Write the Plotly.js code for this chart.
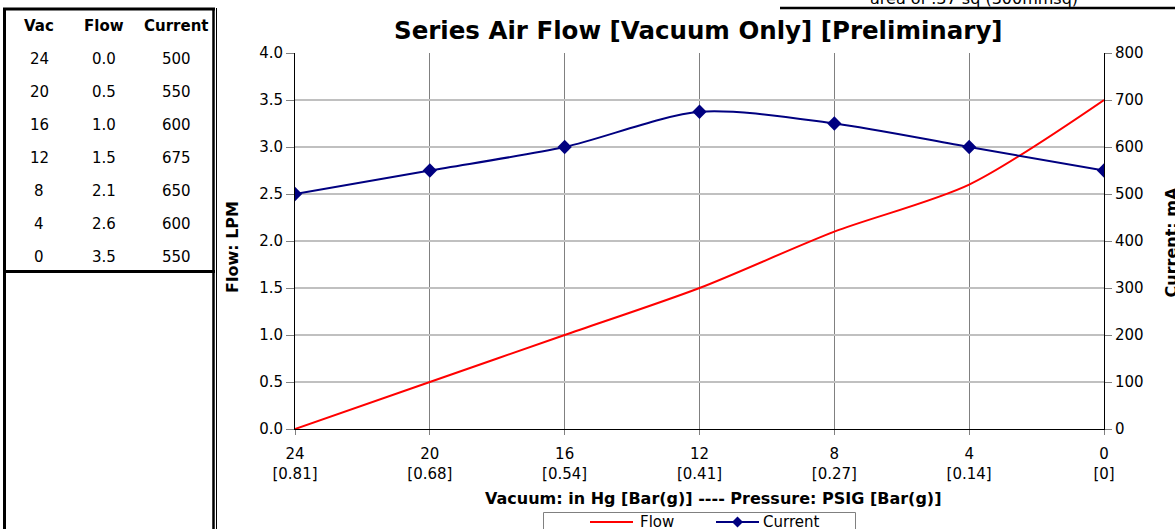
<!DOCTYPE html>
<html>
<head>
<meta charset="utf-8">
<script src="https://cdn.plot.ly/plotly-3.0.1.min.js"></script>
<style>
  html, body { margin: 0; padding: 0; background: #fff; }
  #chart { width: 1175px; height: 529px; }
</style>
</head>
<body>
<div id="chart"></div>
<script>
// ---- data ----
const vacuum = [24, 20, 16, 12, 8, 4, 0];
const barLabels = ['[0.81]', '[0.68]', '[0.54]', '[0.41]', '[0.27]', '[0.14]', '[0]'];
const flow = [0.0, 0.5, 1.0, 1.5, 2.1, 2.6, 3.5];
const current = [500, 550, 600, 675, 650, 600, 550];
const tableHeaders = ['Vac', 'Flow', 'Current'];
const seriesNames = ['Flow', 'Current'];
const seriesColors = ['#ff0000', '#000080'];
const titleText = 'Series Air Flow [Vacuum Only] [Preliminary]';
const noteText = 'area of .37 sq (300mmsq)';

// ---- geometry helpers (pixel -> paper) ----
const W = 1175, H = 529;
const L = 295, R = 1104, T = 53, B = 429;
const px = x => (x - L) / (R - L);
const py = y => (B - y) / (B - T);

const FONT = 'DejaVu Sans';
const tickFont = { family: FONT, size: 15, color: '#000' };

const traces = [
  {
    x: vacuum, y: flow, name: seriesNames[0], type: 'scatter', mode: 'lines',
    line: { color: seriesColors[0], width: 2, shape: 'spline', smoothing: 0.8 },
    yaxis: 'y', showlegend: false
  },
  {
    x: vacuum, y: current, name: seriesNames[1], type: 'scatter', mode: 'lines+markers',
    line: { color: seriesColors[1], width: 2, shape: 'spline', smoothing: 0.8 },
    marker: { symbol: 'diamond', size: 11, color: seriesColors[1] },
    yaxis: 'y2', showlegend: false
  }
];

const ann = (x, y, text, opts) => Object.assign({ xref: 'paper', yref: 'paper', x: px(x), y: py(y),
  text: text, showarrow: false, xanchor: 'center', yanchor: 'middle',
  font: { family: FONT, size: 15, color: '#000' } }, opts || {});

const annotations = [];
// table
const colX = [39, 104, 176];
tableHeaders.forEach((h, j) => annotations.push(ann(colX[j], 26, '<b>' + h + '</b>')));
vacuum.forEach((v, i) => {
  const row = [String(v), flow[i].toFixed(1), String(current[i])];
  row.forEach((t, j) => annotations.push(ann(colX[j], 59 + 33 * i, t)));
});
// axis titles
annotations.push(ann(713, 498, '<b>Vacuum: in Hg [Bar(g)] ---- Pressure: PSIG [Bar(g)]</b>',
  { font: { family: FONT, size: 16, color: '#000' } }));
annotations.push(ann(232, 247, '<b>Flow: LPM</b>',
  { textangle: -90, font: { family: FONT, size: 16, color: '#000' } }));
annotations.push(ann(1160, 243, '<b>Current: mA</b>',
  { textangle: -90, xanchor: 'left', font: { family: FONT, size: 16, color: '#000' } }));
// top note
annotations.push(ann(974, -2, noteText, { font: { family: FONT, size: 16, color: '#000' } }));
// title
annotations.push(ann(698, 31, '<b>' + titleText + '</b>',
  { font: { family: FONT, size: 24.5, color: '#000' } }));
// legend labels
annotations.push(ann(638, 522, seriesNames[0], { xanchor: 'left' }));
annotations.push(ann(761, 522, seriesNames[1], { xanchor: 'left' }));

const line = (x0, y0, x1, y1, w, c) => ({ type: 'line', xref: 'paper', yref: 'paper',
  x0: px(x0), y0: py(y0), x1: px(x1), y1: py(y1), line: { color: c || '#000', width: w }, layer: 'above' });

const shapes = [
  line(4.5, 8, 4.5, 535, 3),
  line(3, 9, 215, 9, 3),
  line(213.5, 8, 213.5, 535, 2.5),
  line(3, 271.5, 215, 271.5, 3),
  line(216.5, 8, 216.5, 535, 1),
  line(780, 8, 1180, 8, 2.5),
  // legend box
  { type: 'rect', xref: 'paper', yref: 'paper', x0: px(543.5), y0: py(512.5), x1: px(855.5), y1: py(545),
    line: { color: '#808080', width: 1 }, fillcolor: '#fff', layer: 'above' },
  line(590, 522, 633, 522, 2, seriesColors[0]),
  line(716, 522, 759, 522, 2, seriesColors[1]),
  { type: 'path', xref: 'paper', yref: 'paper', layer: 'above',
    path: 'M ' + px(737.5) + ',' + py(516.5) + ' L ' + px(743) + ',' + py(522) + ' L ' + px(737.5) + ',' + py(527.5) +
      ' L ' + px(732) + ',' + py(522) + ' Z',
    fillcolor: seriesColors[1], line: { color: seriesColors[1], width: 0 } }
];

const layout = {
  width: W, height: H,
  margin: { l: L, r: W - R, t: T, b: H - B, pad: 0 },
  paper_bgcolor: '#fff', plot_bgcolor: '#fff',
  showlegend: false,
  xaxis: {
    range: [24, 0], tickvals: vacuum,
    ticktext: vacuum.map((v, i) => v + '<br>' + barLabels[i]),
    showgrid: true, gridcolor: '#808080', gridwidth: 1,
    showline: true, linecolor: '#000', linewidth: 1,
    ticks: 'outside', ticklen: 5, tickcolor: '#808080', ticklabelstandoff: 6,
    tickfont: tickFont, zeroline: false, fixedrange: true
  },
  yaxis: {
    range: [0, 4], dtick: 0.5, tick0: 0, tickformat: '.1f',
    showgrid: true, gridcolor: '#c0c0c0', gridwidth: 2,
    showline: true, linecolor: '#000', linewidth: 1,
    ticks: 'outside', ticklen: 8, tickcolor: '#808080',
    tickfont: tickFont, zeroline: false
  },
  yaxis2: {
    range: [0, 800], dtick: 100, tick0: 0, overlaying: 'y', side: 'right',
    showgrid: false, showline: true, linecolor: '#000', linewidth: 1,
    ticks: 'outside', ticklen: 7, tickcolor: '#808080',
    tickfont: tickFont, zeroline: false
  },
  annotations: annotations,
  shapes: shapes
};

Plotly.newPlot('chart', traces, layout, { displayModeBar: false, staticPlot: true });
</script>
</body>
</html>
